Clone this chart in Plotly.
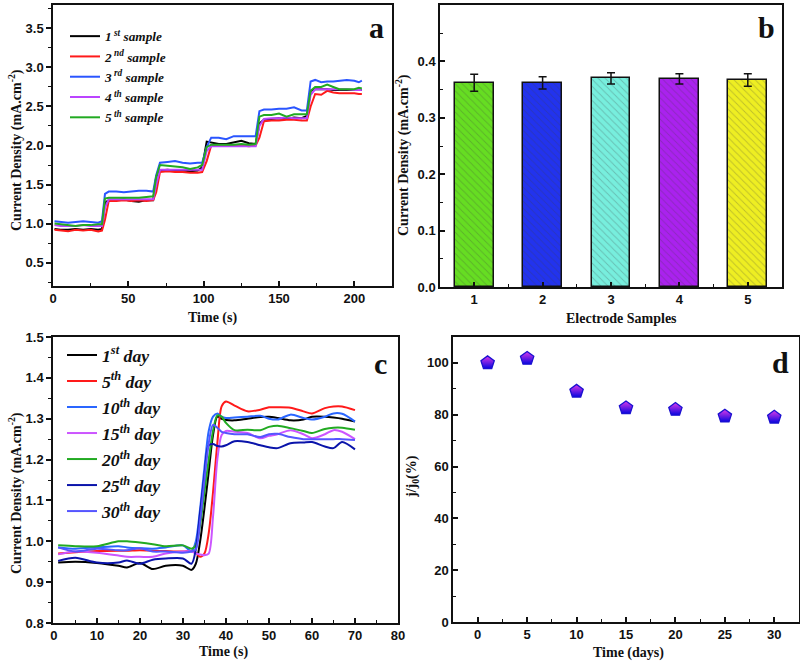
import plotly.graph_objects as go

# ---------------- Panel a data ----------------
t_a = [1, 5, 10, 15, 20, 25, 30, 32.5, 34.5, 37, 42, 47, 52, 57, 62, 66.5, 68.5, 71, 76, 81,
       86, 91, 96, 99, 102, 105, 110, 115, 120, 125, 130, 134.5, 137, 140, 145, 150, 155, 160,
       165, 168.5, 171, 174, 178, 182, 186, 190, 195, 200, 203, 205]
s1 = [0.93, 0.92, 0.92, 0.93, 0.92, 0.93, 0.92, 0.93, 1.27, 1.30, 1.30, 1.31, 1.29, 1.28, 1.30,
      1.30, 1.60, 1.68, 1.69, 1.68, 1.68, 1.67, 1.68, 1.72, 2.05, 2.04, 2.02, 2.02, 2.04, 2.06,
      2.03, 2.02, 2.28, 2.33, 2.34, 2.35, 2.34, 2.36, 2.35, 2.38, 2.70, 2.72, 2.72, 2.72, 2.71,
      2.71, 2.71, 2.71, 2.71, 2.71]
s2 = [0.92, 0.91, 0.90, 0.92, 0.91, 0.92, 0.90, 0.91, 1.05, 1.29, 1.29, 1.30, 1.29, 1.30, 1.29,
      1.30, 1.40, 1.66, 1.67, 1.66, 1.66, 1.65, 1.65, 1.66, 1.80, 2.00, 2.00, 2.00, 2.00, 2.00,
      1.99, 2.00, 2.10, 2.31, 2.32, 2.32, 2.33, 2.33, 2.32, 2.32, 2.50, 2.66, 2.65, 2.70, 2.68,
      2.67, 2.67, 2.67, 2.66, 2.66]
s3 = [1.03, 1.02, 1.01, 1.02, 1.03, 1.02, 1.01, 1.03, 1.38, 1.41, 1.41, 1.40, 1.41, 1.42, 1.42,
      1.41, 1.62, 1.78, 1.79, 1.80, 1.78, 1.77, 1.78, 1.78, 1.98, 2.10, 2.10, 2.08, 2.12, 2.12,
      2.12, 2.12, 2.44, 2.46, 2.46, 2.47, 2.47, 2.49, 2.45, 2.45, 2.82, 2.84, 2.81, 2.82, 2.82,
      2.83, 2.84, 2.83, 2.81, 2.83]
s4 = [0.98, 0.97, 0.97, 0.97, 0.98, 0.97, 0.97, 0.97, 1.20, 1.31, 1.31, 1.31, 1.31, 1.31, 1.31,
      1.31, 1.50, 1.69, 1.69, 1.69, 1.69, 1.69, 1.69, 1.69, 1.93, 1.99, 1.99, 1.99, 1.99, 1.99,
      1.99, 1.99, 2.25, 2.34, 2.35, 2.35, 2.36, 2.35, 2.35, 2.35, 2.65, 2.72, 2.72, 2.72, 2.72,
      2.72, 2.72, 2.71, 2.71, 2.71]
s5 = [1.00, 0.99, 0.98, 0.97, 0.98, 0.98, 0.99, 0.99, 1.32, 1.33, 1.33, 1.33, 1.33, 1.33, 1.34,
      1.35, 1.60, 1.75, 1.74, 1.73, 1.72, 1.70, 1.72, 1.75, 1.98, 2.01, 2.01, 2.01, 2.01, 2.02,
      2.01, 2.02, 2.37, 2.39, 2.39, 2.41, 2.37, 2.40, 2.40, 2.40, 2.70, 2.75, 2.75, 2.78, 2.75,
      2.72, 2.72, 2.72, 2.74, 2.73]
names_a = ["1<sup> st</sup> sample", "2<sup> nd</sup> sample", "3<sup> rd</sup> sample",
           "4<sup> th</sup> sample", "5<sup> th</sup> sample"]
colors_a = ["#000000", "#ff1a1a", "#2a55ff", "#bb44ff", "#22aa22"]

# ---------------- Panel b data ----------------
samples_b = [1, 2, 3, 4, 5]
means_b = [0.362, 0.362, 0.370, 0.369, 0.367]
err_b = [0.015, 0.011, 0.010, 0.009, 0.011]
colors_b = ["#66dd22", "#2233ee", "#77eedd", "#aa22ee", "#eeee22"]

# ---------------- Panel c data ----------------
t_c = [1, 5, 10, 15, 17, 20, 23, 26, 30, 32, 33, 34, 35, 36, 37, 38, 39, 40, 42, 45, 48, 50,
       52, 55, 58, 60, 63, 65, 67, 70]
d1 = [0.948, 0.950, 0.947, 0.940, 0.936, 0.947, 0.932, 0.940, 0.940, 0.930, 0.945, 1.00, 1.08,
      1.17, 1.26, 1.305, 1.300, 1.297, 1.296, 1.300, 1.304, 1.305, 1.302, 1.296, 1.298, 1.305,
      1.305, 1.303, 1.300, 1.293]
d5 = [0.970, 0.973, 0.976, 0.977, 0.977, 0.978, 0.977, 0.976, 0.975, 0.976, 0.972, 0.962, 0.970,
      1.02, 1.12, 1.24, 1.330, 1.342, 1.332, 1.318, 1.322, 1.328, 1.328, 1.327, 1.318, 1.313,
      1.326, 1.330, 1.330, 1.321]
d10 = [0.985, 0.982, 0.985, 0.988, 0.985, 0.983, 0.982, 0.985, 0.990, 0.975, 1.00, 1.08, 1.18,
       1.27, 1.305, 1.313, 1.305, 1.302, 1.303, 1.305, 1.307, 1.300, 1.298, 1.310, 1.302, 1.298,
       1.305, 1.313, 1.312, 1.293]
d15 = [0.968, 0.975, 0.972, 0.965, 0.962, 0.962, 0.962, 0.970, 0.975, 0.975, 0.970, 0.968, 0.966,
       0.970, 1.06, 1.20, 1.26, 1.270, 1.268, 1.265, 1.252, 1.258, 1.262, 1.272, 1.262, 1.252,
       1.262, 1.272, 1.268, 1.250]
d20 = [0.990, 0.988, 0.988, 1.000, 1.000, 0.997, 0.993, 0.988, 0.990, 0.982, 0.990, 1.04, 1.12,
       1.20, 1.27, 1.308, 1.305, 1.290, 1.272, 1.273, 1.272, 1.280, 1.283, 1.277, 1.270, 1.265,
       1.275, 1.278, 1.278, 1.273]
d25 = [0.952, 0.960, 0.948, 0.948, 0.953, 0.945, 0.955, 0.958, 0.958, 0.945, 0.98, 1.07, 1.16,
       1.235, 1.238, 1.233, 1.232, 1.235, 1.245, 1.243, 1.235, 1.230, 1.228, 1.240, 1.242, 1.243,
       1.232, 1.228, 1.243, 1.225]
d30 = [0.985, 0.975, 0.982, 0.978, 0.978, 0.983, 0.975, 0.975, 0.972, 0.975, 0.980, 1.05, 1.15,
       1.24, 1.285, 1.278, 1.268, 1.265, 1.262, 1.262, 1.255, 1.262, 1.263, 1.255, 1.250, 1.250,
       1.250, 1.250, 1.250, 1.248]
names_c = ["1<sup>st</sup> day", "5<sup>th</sup> day", "10<sup>th</sup> day", "15<sup>th</sup> day",
           "20<sup>th</sup> day", "25<sup>th</sup> day", "30<sup>th</sup> day"]
colors_c = ["#000000", "#ff1a1a", "#2a66ff", "#cc55ff", "#22aa22", "#0a14aa", "#5555ff"]

# ---------------- Panel d data ----------------
days_d = [1, 5, 10, 15, 20, 25, 30]
ratio_d = [100, 101.7, 89, 82.6, 82, 79.4, 79]

SERIF = "Liberation Serif"
SANS = "Liberation Sans"

fig = go.Figure()

for y, nm, c in zip([s1, s2, s3, s4, s5], names_a, colors_a):
    fig.add_trace(go.Scatter(x=t_a, y=y, name=nm, mode="lines", line=dict(color=c, width=2),
                             xaxis="x", yaxis="y", legend="legend"))

for s, m, e, c in zip(samples_b, means_b, err_b, colors_b):
    fig.add_trace(go.Bar(x=[s], y=[m], width=0.57, showlegend=False, xaxis="x2", yaxis="y2",
                         marker=dict(color=c, line=dict(color="#111111", width=1.5),
                                     pattern=dict(shape="\\", bgcolor=c, fgcolor="rgba(60,60,60,0.55)",
                                                  size=5, solidity=0.18)),
                         error_y=dict(type="data", array=[e], color="#111111", thickness=1.5, width=4)))

for y, nm, c in zip([d1, d5, d10, d15, d20, d25, d30], names_c, colors_c):
    fig.add_trace(go.Scatter(x=t_c, y=y, name=nm, mode="lines",
                             line=dict(color=c, width=2, shape="spline", smoothing=0.8),
                             xaxis="x3", yaxis="y3", legend="legend2"))

fig.add_trace(go.Scatter(x=days_d, y=ratio_d, mode="markers", showlegend=False, xaxis="x4", yaxis="y4",
                         marker=dict(symbol="pentagon", size=14, color="#e03ae8",
                                     gradient=dict(type="vertical", color="#0505e0"),
                                     line=dict(color="#1a10d0", width=1.3))))

tickfont = dict(family=SANS, size=13, color="#111111", weight="bold")

def axis(domain, rng, dtick, minor_dtick, anchor, ticks, fmt=None, tickvals=None):
    d = dict(domain=domain, range=rng, anchor=anchor, automargin=False, showline=True,
             linecolor="#111111", linewidth=1.5, mirror=True, ticks=ticks, ticklen=5, tickwidth=1.5,
             tickcolor="#111111", showgrid=False, zeroline=False, tickfont=tickfont,
             minor=dict(dtick=minor_dtick, ticks=ticks, ticklen=3, tickwidth=1.2,
                        tickcolor="#111111", showgrid=False))
    if tickvals is not None:
        d["tickvals"] = tickvals
    else:
        d["dtick"] = dtick
        d["tick0"] = 0
    if fmt:
        d["tickformat"] = fmt
    return d

W, H = 800, 661
def px(x0, x1):
    return [x0 / W, x1 / W]
def py(y0, y1):
    return [1 - y1 / H, 1 - y0 / H]

fig.update_layout(
    width=W, height=H, margin=dict(l=0, r=0, t=0, b=0, autoexpand=False),
    paper_bgcolor="white", plot_bgcolor="white",
    xaxis=axis(px(53, 392), [0, 225], 50, 25, "y", "inside"),
    yaxis=axis(py(5, 286), [0.2, 3.8], 0.5, 0.25, "x", "outside", fmt=".1f"),
    xaxis2=axis(px(440, 782), [0.5, 5.5], None, 0.5, "y2", "inside", tickvals=samples_b),
    yaxis2=axis(py(5, 287), [0, 0.5], 0.1, 0.05, "x2", "inside", fmt=".1f"),
    xaxis3=axis(px(53, 398), [-0.2, 80], 10, 5, "y3", "inside"),
    yaxis3=axis(py(337, 623), [0.8, 1.5], 0.1, 0.05, "x3", "outside", fmt=".1f"),
    xaxis4=axis(px(453, 799), [-2.5, 32.5], 5, 2.5, "y4", "inside"),
    yaxis4=axis(py(337, 622), [0, 110], 20, 10, "x4", "inside"),
    legend=dict(x=65 / W, y=1 - 21 / H, xanchor="left", yanchor="top", bgcolor="rgba(0,0,0,0)",
                font=dict(family=SERIF, size=13.3, style="italic", weight="bold", color="#111111"),
                tracegroupgap=0, itemwidth=30),
    legend2=dict(x=62 / W, y=1 - 337 / H, xanchor="left", yanchor="top", bgcolor="rgba(0,0,0,0)",
                 font=dict(family=SERIF, size=17.7, style="italic", weight="bold", color="#111111"),
                 tracegroupgap=0, itemwidth=30),
    bargap=0,
)

title_font = dict(family=SERIF, size=14, color="#111111", weight="bold")
ann = [
    dict(text="Time (s)", x=212, y=318),
    dict(text="Current Density (mA.cm<sup>-2</sup>)", x=15, y=150, textangle=-90),
    dict(text="Electrode Samples", x=621, y=318),
    dict(text="Current Density (mA.cm<sup>-2</sup>)", x=403, y=155, textangle=-90),
    dict(text="Time (s)", x=223, y=652),
    dict(text="Current Density (mA.cm<sup>-2</sup>)", x=15, y=493, textangle=-90),
    dict(text="Time (days)", x=628, y=653),
    dict(text="j/j<sub>0</sub>(%)", x=413, y=477, textangle=-90),
]
for a in ann:
    fig.add_annotation(text=a["text"], x=a["x"] / W, y=1 - a["y"] / H, xref="paper", yref="paper",
                       showarrow=False, textangle=a.get("textangle", 0), font=title_font,
                       xanchor="center", yanchor="middle")

letter_font = dict(family=SERIF, size=30, color="#111111", weight="bold")
for txt, x, y in [("a", 376, 28), ("b", 766, 28), ("c", 380, 363), ("d", 780, 362)]:
    fig.add_annotation(text=txt, x=x / W, y=1 - y / H, xref="paper", yref="paper", showarrow=False,
                       font=letter_font, xanchor="center", yanchor="middle")

fig.write_html("out.html", config={"displayModeBar": False},
               post_script="document.body.style.margin='0';document.body.style.padding='0';"
                           "document.documentElement.style.overflow='hidden';")
